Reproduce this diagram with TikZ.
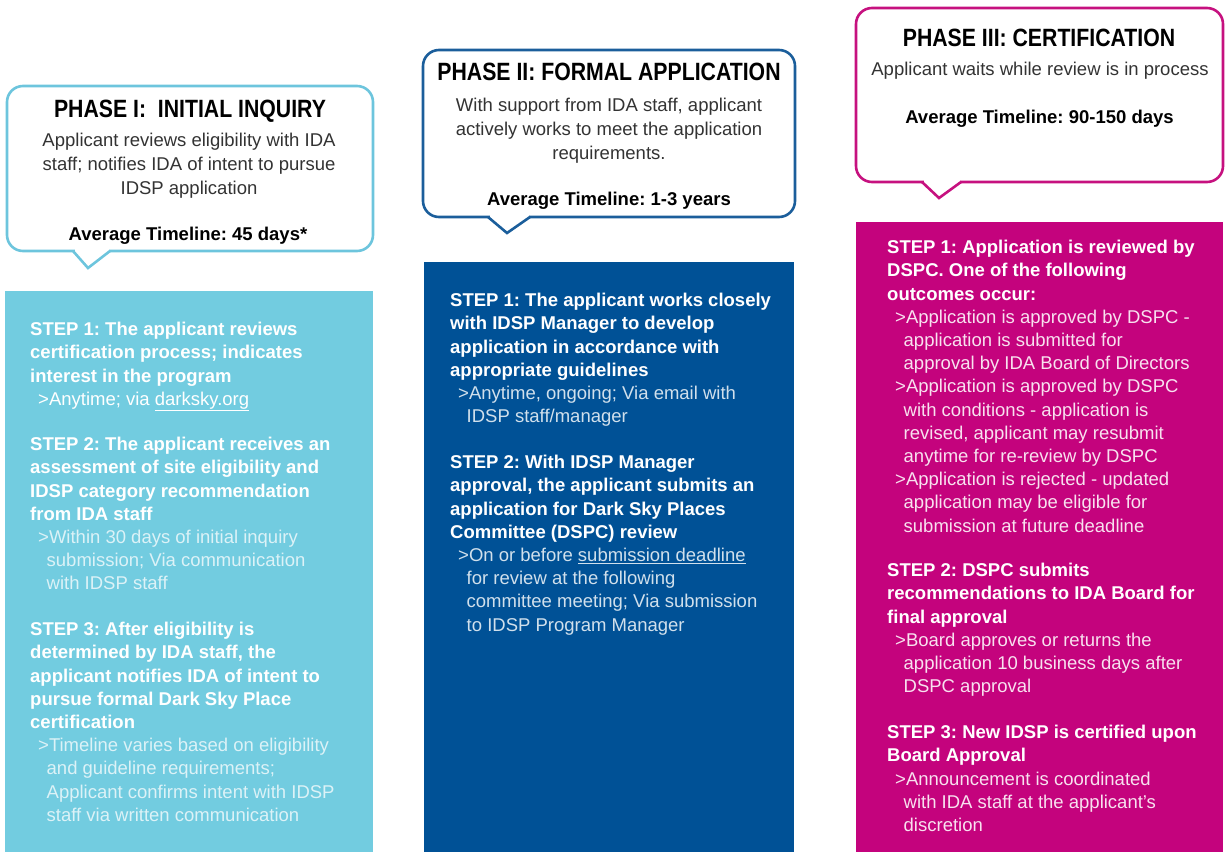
\documentclass[tikz,border=0pt]{standalone}
\usepackage{fontspec}
\setmainfont{Liberation Sans}
\newfontfamily\phasefont{Liberation Sans}[FakeStretch=0.85]
\frenchspacing

\definecolor{inqline}{HTML}{6DC5DD}
\definecolor{inqfill}{HTML}{72CCE0}
\definecolor{appline}{HTML}{1B5E9B}
\definecolor{appfill}{HTML}{005196}
\definecolor{certline}{HTML}{C6117F}
\definecolor{certfill}{HTML}{C4037D}
\definecolor{descgray}{HTML}{333333}

\newcommand{\subind}{\hspace*{8.5pt}}

\tikzset{
  bubble/.style={line width=2.6pt, rounded corners=16pt, fill=white},
  pointer/.style={line width=2.6pt, line cap=round, line join=miter},
  phasetitle/.style={anchor=base, inner sep=0pt,
    font=\phasefont\bfseries\fontsize{25}{30}\selectfont},
  phasedesc/.style={anchor=north, inner sep=0pt, align=center, text=descgray,
    font=\fontsize{18.5}{24}\selectfont},
  timeline/.style={anchor=base, inner sep=0pt, font=\bfseries\fontsize{18.5}{22}\selectfont},
  stephead/.style={anchor=north west, inner sep=0pt, align=left, text=white,
    font=\bfseries\fontsize{18.5}{23.2}\selectfont},
  stepsub/.style={anchor=north west, inner sep=0pt, align=left,
    font=\fontsize{18.5}{23.2}\selectfont},
}

\begin{document}
\begin{tikzpicture}[x=1pt,y=-1pt]
  \useasboundingbox (0,0) rectangle (1225,852);

  % phase I: initial inquiry
  \draw[bubble, draw=inqline] (7,86) rectangle (373,251);
  \fill[white] (74.5,248.5) rectangle (108.5,253.5);
  \draw[pointer, inqline] (73,251) -- (88,268) -- (110,251);
  \node[phasetitle] (inqtitle) at (190,117.3) {PHASE I:~ INITIAL INQUIRY};
  \node[phasedesc] (inqdesc) at (189,133.3) {Applicant reviews eligibility with IDA\\
    staff; notifies IDA of intent to pursue\\ IDSP application};
  \node[timeline] (inqtime) at (188,240) {Average Timeline: 45 days*};

  \fill[inqfill] (5,291) rectangle (373,852);
  \node[stephead] (inqs1) at (30,322) {STEP 1: The applicant reviews\\
    certification process; indicates\\ interest in the program};
  \node[stepsub, text=white] (inqs1sub) at (38,391.6) {>Anytime; via \underline{darksky.org}};
  \node[stephead] (inqs2) at (30,437) {STEP 2: The applicant receives an\\
    assessment of site eligibility and\\ IDSP category recommendation\\ from IDA staff};
  \node[stepsub, text=white!75!inqfill] (inqs2sub) at (38,529.8) {>Within 30 days of initial inquiry\\
    \subind submission; Via communication\\ \subind with IDSP staff};
  \node[stephead] (inqs3) at (30,622) {STEP 3: After eligibility is\\
    determined by IDA staff, the\\ applicant notifies IDA of intent to\\
    pursue formal Dark Sky Place\\ certification};
  \node[stepsub, text=white!75!inqfill] (inqs3sub) at (38,738) {>Timeline varies based on eligibility\\
    \subind and guideline requirements;\\ \subind Applicant confirms intent with IDSP\\
    \subind staff via written communication};

  % phase II: formal application
  \draw[bubble, draw=appline] (423,50) rectangle (795,217);
  \fill[white] (489.5,214.5) rectangle (528.5,219.5);
  \draw[pointer, appline] (488,217) -- (507,233) -- (530,217);
  \node[phasetitle] (apptitle) at (609,80.7) {PHASE II: FORMAL APPLICATION};
  \node[phasedesc] (appdesc) at (609,97.5) {With support from IDA staff, applicant\\
    actively works to meet the application\\ requirements.};
  \node[timeline] (apptime) at (609,205) {Average Timeline: 1-3 years};

  \fill[appfill] (424,262) rectangle (794,852);
  \node[stephead] (apps1) at (450,293) {STEP 1: The applicant works closely\\
    with IDSP Manager to develop\\ application in accordance with\\ appropriate guidelines};
  \node[stepsub, text=white!82!appfill] (apps1sub) at (458,385.8) {>Anytime, ongoing; Via email with\\
    \subind IDSP staff/manager};
  \node[stephead] (apps2) at (450,455) {STEP 2: With IDSP Manager\\
    approval, the applicant submits an\\ application for Dark Sky Places\\ Committee (DSPC) review};
  \node[stepsub, text=white!82!appfill] (apps2sub) at (458,547.8) {>On or before \underline{submission deadline}\\
    \subind for review at the following\\ \subind committee meeting; Via submission\\
    \subind to IDSP Program Manager};

  % phase III: certification
  \draw[bubble, draw=certline] (856,8) rectangle (1223,182);
  \fill[white] (923.5,179.5) rectangle (959.5,184.5);
  \draw[pointer, certline] (922,182) -- (939,198) -- (961,182);
  \node[phasetitle] (certtitle) at (1039,46.7) {PHASE III: CERTIFICATION};
  \node[phasedesc, anchor=base] (certdesc) at (1040,75) {Applicant waits while review is in process};
  \node[timeline] (certtime) at (1039.5,123) {Average Timeline: 90-150 days};

  \fill[certfill] (856,222) rectangle (1223,852);
  \node[stephead] (certs1) at (887,240) {STEP 1: Application is reviewed by\\
    DSPC. One of the following\\ outcomes occur:};
  \node[stepsub, text=white!88!certfill] (certs1sub) at (895,309.6) {>Application is approved by DSPC -\\
    \subind application is submitted for\\ \subind approval by IDA Board of Directors\\
    >Application is approved by DSPC\\ \subind with conditions - application is\\
    \subind revised, applicant may resubmit\\ \subind anytime for re-review by DSPC\\
    >Application is rejected - updated\\ \subind application may be eligible for\\
    \subind submission at future deadline};
  \node[stephead] (certs2) at (887,563) {STEP 2: DSPC submits\\
    recommendations to IDA Board for\\ final approval};
  \node[stepsub, text=white!88!certfill] (certs2sub) at (895,632.6) {>Board approves or returns the\\
    \subind application 10 business days after\\ \subind DSPC approval};
  \node[stephead] (certs3) at (887,725) {STEP 3: New IDSP is certified upon\\ Board Approval};
  \node[stepsub, text=white!88!certfill] (certs3sub) at (895,771.4) {>Announcement is coordinated\\
    \subind with IDA staff at the applicant's\\ \subind discretion};
\end{tikzpicture}
\end{document}
